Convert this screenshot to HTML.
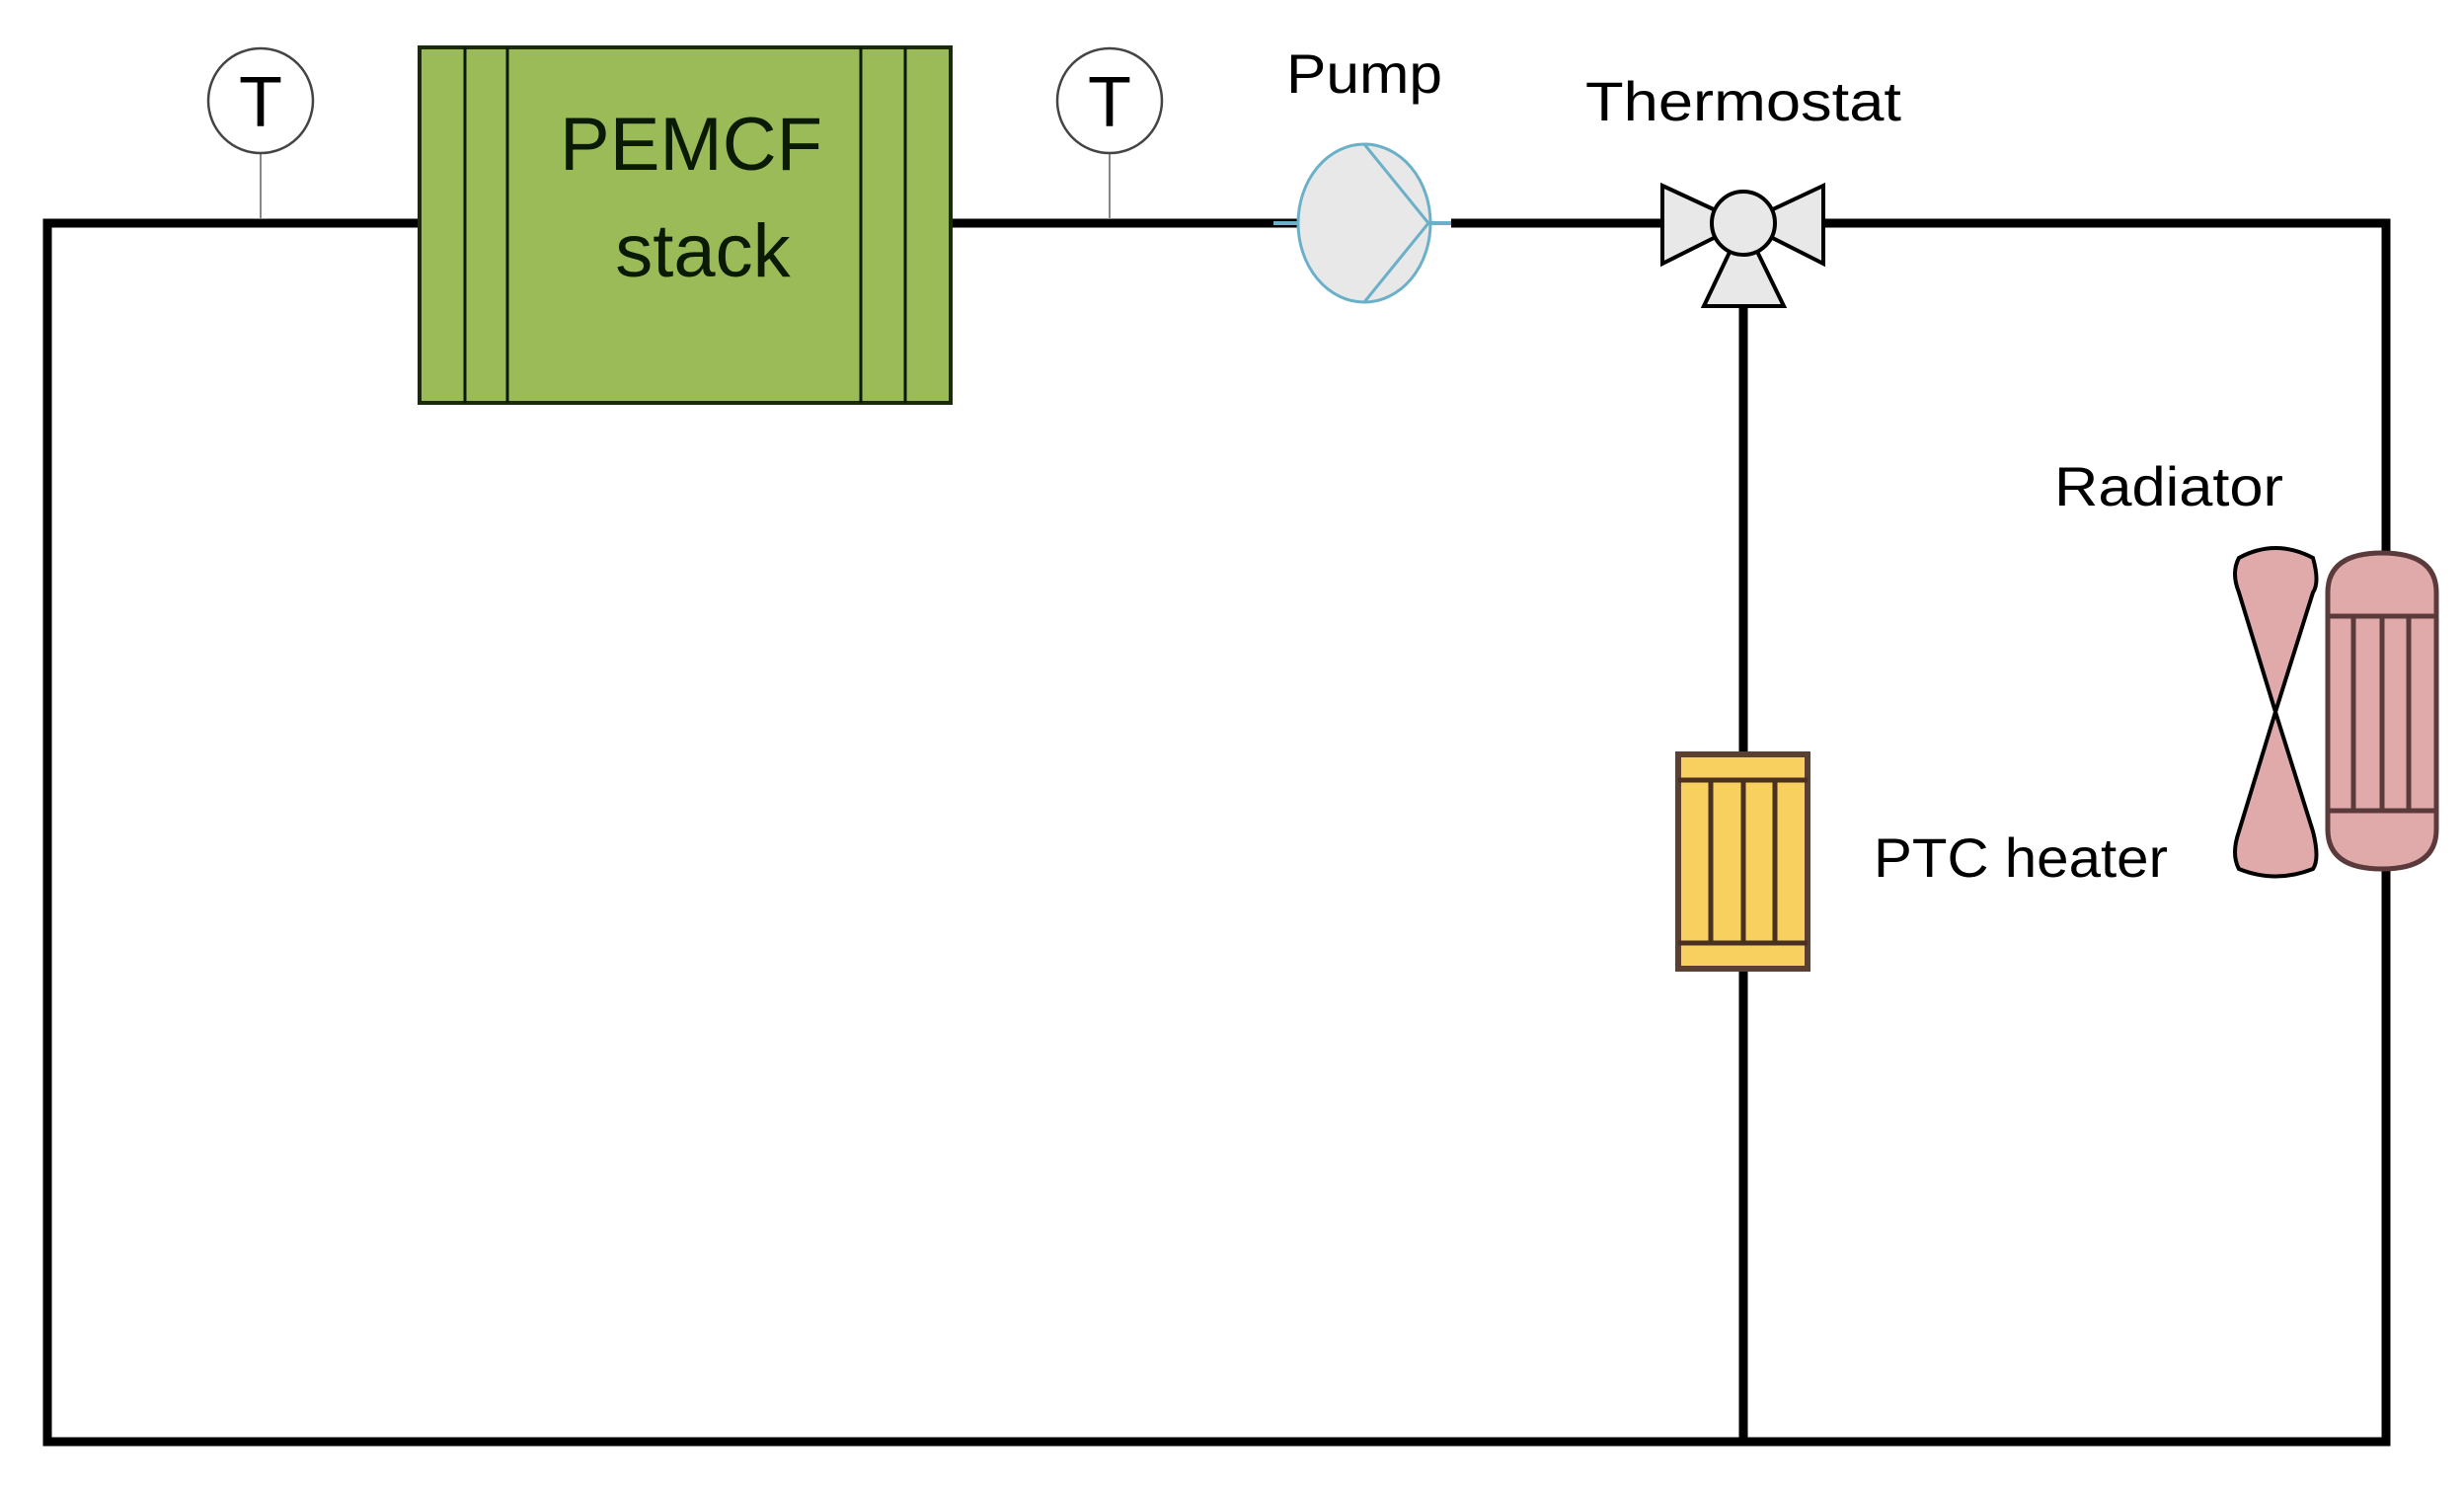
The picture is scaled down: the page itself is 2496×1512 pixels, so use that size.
<!DOCTYPE html>
<html><head><meta charset="utf-8"><style>html,body{margin:0;padding:0;background:#fff}svg{display:block}</style></head>
<body>
<svg width="2496" height="1512" viewBox="0 0 2496 1512" xmlns="http://www.w3.org/2000/svg" font-family="'Liberation Sans', sans-serif">
<rect width="2496" height="1512" fill="#fff"/>
<g stroke="#000" stroke-width="9" fill="none">
<polyline points="425,226 48,226 48,1460 2417,1460 2417,226 1847,226"/>
<line x1="963" y1="226" x2="1315" y2="226"/>
<line x1="1470" y1="226" x2="1684" y2="226"/>
<line x1="1766" y1="310" x2="1766" y2="1460"/>
</g>
<g stroke="#888" stroke-width="2">
<line x1="264" y1="155" x2="264" y2="222"/>
<line x1="1124" y1="155" x2="1124" y2="222"/>
</g>
<g fill="#fff" stroke="#444" stroke-width="2.5">
<circle cx="264" cy="102" r="53"/>
<circle cx="1124" cy="102" r="53"/>
</g>
<g font-size="72" text-anchor="middle" fill="#000">
<text x="264" y="128">T</text>
<text x="1124" y="128">T</text>
</g>
<rect x="425" y="48" width="538" height="360" fill="#9bbb59" stroke="#1a2a0a" stroke-width="4"/>
<g stroke="#0a1a05" stroke-width="3">
<line x1="471" y1="48" x2="471" y2="408"/><line x1="514" y1="48" x2="514" y2="408"/>
<line x1="872" y1="48" x2="872" y2="408"/><line x1="917" y1="48" x2="917" y2="408"/>
</g>
<g font-size="76" text-anchor="middle" fill="#0a1a05">
<text x="700" y="172">PEMCF</text>
<text x="712" y="280">stack</text>
</g>
<line x1="1290" y1="226" x2="1470" y2="226" stroke="#6ab0c8" stroke-width="4"/>
<ellipse cx="1382" cy="226" rx="67" ry="80" fill="#e8e8e8" stroke="#6ab0c8" stroke-width="3"/>
<polyline points="1382,146 1447,226 1382,306" fill="none" stroke="#6ab0c8" stroke-width="3"/>
<text x="1382" y="94" font-size="56" text-anchor="middle" textLength="158" lengthAdjust="spacingAndGlyphs">Pump</text>
<g fill="#e8e8e8" stroke="#000" stroke-width="4">
<polygon points="1684,188 1766,226 1684,267"/>
<polygon points="1847,188 1766,226 1847,267"/>
<polygon points="1766,226 1726,310 1807,310"/>
<circle cx="1766" cy="226" r="32"/>
</g>
<text x="1766" y="122" font-size="56" text-anchor="middle" textLength="320" lengthAdjust="spacingAndGlyphs">Thermostat</text>
<rect x="1700" y="764" width="131" height="217" fill="#f7d060" stroke="#5a4030" stroke-width="6"/>
<g stroke="#4a3020" stroke-width="5">
<line x1="1700" y1="790" x2="1831" y2="790"/><line x1="1700" y1="955" x2="1831" y2="955"/>
<line x1="1733" y1="790" x2="1733" y2="955"/><line x1="1766" y1="790" x2="1766" y2="955"/><line x1="1798" y1="790" x2="1798" y2="955"/>
</g>
<text x="1898" y="888" font-size="56" textLength="298" lengthAdjust="spacingAndGlyphs">PTC heater</text>
<text x="2081" y="512" font-size="56" textLength="232" lengthAdjust="spacingAndGlyphs">Radiator</text>
<path d="M2268,565 Q2305,545 2343,565 Q2350,590 2343,600 L2305,721 L2343,842 Q2350,870 2343,880 Q2305,895 2268,880 Q2260,865 2268,842 L2305,721 L2268,600 Q2260,580 2268,565 Z" fill="#e0aaaa" stroke="#000" stroke-width="4"/>
<path d="M2358,600 Q2358,560 2413,560 Q2468,560 2468,600 L2468,840 Q2468,880 2413,880 Q2358,880 2358,840 Z" fill="#e0aaaa" stroke="#5a3a3a" stroke-width="5"/>
<g stroke="#5a3a3a" stroke-width="5">
<line x1="2358" y1="624" x2="2468" y2="624"/><line x1="2358" y1="821" x2="2468" y2="821"/>
<line x1="2384" y1="624" x2="2384" y2="821"/><line x1="2413" y1="624" x2="2413" y2="821"/><line x1="2440" y1="624" x2="2440" y2="821"/>
</g>
</svg>
</body></html>
